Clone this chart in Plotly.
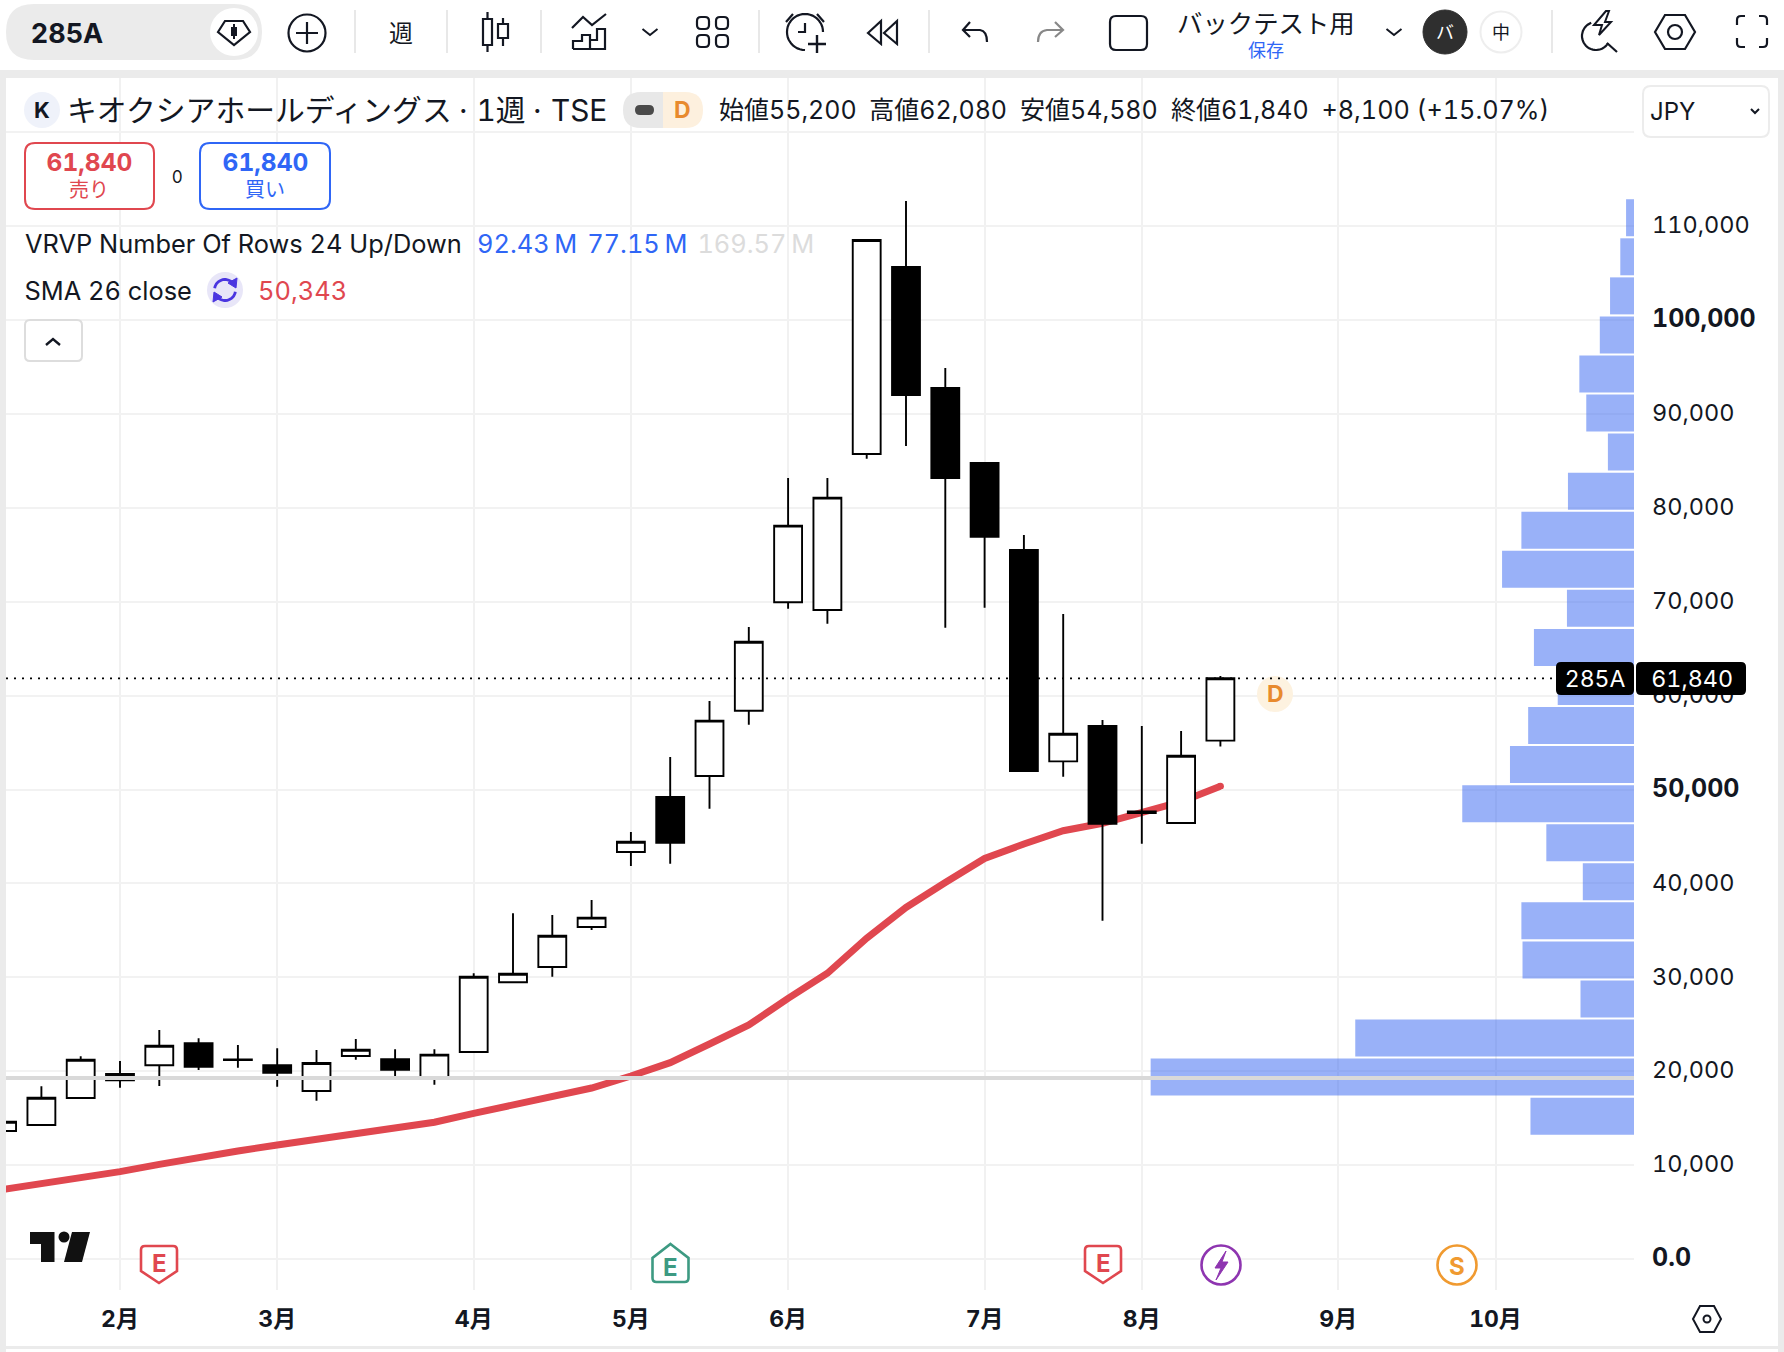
import math

import plotly.graph_objects as go

# weekly bars, 0 = first week of Feb
weeks = list(range(-3, 29))
open_ = [13630, 14270, 17150, 19040, 20630, 22970, 21200, 20630, 17890, 21620, 21270, 19280, 22040, 29470, 31100, 35360,
         43340, 49200, 51440, 58390, 69940, 69120, 85730, 105640, 92760, 84770, 75510, 53000, 56760, 47650, 46430, 55200]
high = [14620, 18400, 21590, 21090, 24390, 23500, 22790, 22440, 22260, 23430, 22330, 22330, 30430, 36810, 36630, 38230,
        45470, 53460, 59420, 67300, 83170, 83170, 108520, 112670, 94890, 84770, 77100, 68690, 57400, 56760, 56230, 62080]
low = [13630, 14270, 17150, 18240, 18430, 20130, 20370, 18350, 16860, 21220, 19380, 18560, 22040, 29470, 30060, 35040,
       41850, 42100, 47960, 56900, 69250, 67660, 85230, 86580, 67230, 69360, 51970, 51360, 36030, 44230, 46430, 54580]
close = [14620, 17180, 21220, 19700, 22710, 20480, 21240, 19840, 20870, 22290, 20160, 21760, 30060, 30380, 34430, 36350,
         44440, 44330, 57330, 65740, 78100, 81080, 108520, 92010, 83170, 76920, 51970, 55940, 46360, 47500, 53600, 61840]

sma_26 = [7400, 8000, 8650, 9300, 10080, 10830, 11500, 12140, 12780, 13420, 13950, 14560, 15510, 16400, 17360, 18210,
          19490, 20910, 22900, 24920, 27760, 30430, 34160, 37440, 40100, 42650, 44200, 45610, 46400, 47570, 48700, 50343]

# VRVP rows, price centre of the row and volume in millions
vrvp_price = [15210, 19370, 23530, 27690, 31850, 36010, 40170, 44330, 48490, 52650, 56810, 60970,
              65130, 69290, 73450, 77610, 81770, 85930, 90090, 94250, 98410, 102570, 106730, 110890]
vrvp_volume = [7.18, 33.52, 19.33, 3.71, 7.73, 7.81, 3.55, 6.08, 11.91, 8.60, 7.34, 5.29,
               6.94, 4.65, 9.15, 7.81, 4.58, 1.81, 3.31, 3.79, 2.37, 1.66, 0.95, 0.55]

month_ticks = [0, 4, 9, 13, 17, 22, 26, 31, 35]
month_labels = ["2月", "3月", "4月", "5月", "6月", "7月", "8月", "9月", "10月"]
price_ticks = [0, 10000, 20000, 30000, 40000, 50000, 60000, 70000, 80000, 90000, 100000, 110000, 120000]
price_labels = ["0.0", "10,000", "20,000", "30,000", "40,000", "50,000", "60,000", "70,000",
                "80,000", "90,000", "100,000", "110,000", ""]
bold_prices = ["0.0", "50,000", "100,000"]
line_level = 19280

W, H = 1784, 1352
PLOT_L, PLOT_R, PLOT_T, PLOT_B = 6, 1634, 78, 1290
FONT = "Inter, 'Noto Sans CJK JP', sans-serif"
INK = "#131722"
RED = "#e0474f"
BLUE = "#2f66f6"
ORANGE = "#e88a2e"
X_RANGE = [(PLOT_L - 120) / 39.3, (PLOT_R - 120) / 39.3]
Y_RANGE = [(1259 - PLOT_B) / 0.00939, (1259 - PLOT_T) / 0.00939]

shapes = []
notes = []


# shapes and text below are page furniture, placed in page pixels through x2/y2
def path(d, color=INK, width=2.2, fill=None):
    shapes.append(dict(type="path", path=d, xref="x2", yref="y2", layer="above",
                       line=dict(color=color, width=width), fillcolor=fill or "rgba(0,0,0,0)"))


def box(x0, y0, x1, y1, r=0, color=INK, width=2.2, fill=None):
    if r:
        d = (f"M{x0+r},{y0} L{x1-r},{y0} Q{x1},{y0} {x1},{y0+r} L{x1},{y1-r} Q{x1},{y1} {x1-r},{y1} "
             f"L{x0+r},{y1} Q{x0},{y1} {x0},{y1-r} L{x0},{y0+r} Q{x0},{y0} {x0+r},{y0} Z")
    else:
        d = f"M{x0},{y0} L{x1},{y0} L{x1},{y1} L{x0},{y1} Z"
    path(d, color, width, fill)


def solid(x0, y0, x1, y1, fill, r=0):
    box(x0, y0, x1, y1, r, "rgba(0,0,0,0)", 0, fill)


def circle(cx, cy, r, color=INK, width=2.2, fill=None):
    shapes.append(dict(type="circle", xref="x2", yref="y2", layer="above", x0=cx-r, x1=cx+r, y0=cy-r, y1=cy+r,
                       line=dict(color=color, width=width), fillcolor=fill or "rgba(0,0,0,0)"))


# shape paths have no arc command, so arcs go in as short segments
def arc(cx, cy, r, a0, a1, color=INK, width=2.2):
    steps = max(8, int(abs(a1 - a0) / 8))
    pts = [(cx + r * math.cos(math.radians(a0 + (a1 - a0) * k / steps)),
            cy + r * math.sin(math.radians(a0 + (a1 - a0) * k / steps))) for k in range(steps + 1)]
    path("M" + " L".join(f"{x:.1f},{y:.1f}" for x, y in pts), color, width)


def text(x, y, s, size=25, color=INK, anchor="left"):
    notes.append(dict(x=x, y=y, text=s, xref="x2", yref="y2", showarrow=False, xanchor=anchor, yanchor="middle",
                      font=dict(family=FONT, size=size, color=color), borderpad=0, borderwidth=0))


def chevron(x, y, color=INK, w=7.5, h=6, width=2):
    path(f"M{x-w},{y} L{x},{y+h} L{x+w},{y}", color, width)


def badge_down(cx):
    path(f"M{cx-18},1250 Q{cx-18},1246 {cx-14},1246 L{cx+14},1246 Q{cx+18},1246 {cx+18},1250 "
         f"L{cx+18},1271 L{cx},1283 L{cx-18},1271 Z", RED, 2.6, "white")
    text(cx, 1263, "<b>E</b>", 24, RED, "center")


# page frame
solid(0, 70, W, 78, "#ebebeb")
solid(0, 78, PLOT_L, H, "#ebebeb")
solid(1778, 78, W, H, "#ebebeb")
solid(PLOT_L, 1346, 1778, 1349, "#ebebeb")

# toolbar
solid(6, 4, 262, 60, "#ebebeb", 28)
text(31, 33, "<b>285A</b>", 27)
circle(234, 32, 24, "rgba(0,0,0,0)", 0, "white")
path("M218,32 L225,21 L243,21 L250,32 L234,45 Z", INK, 2.2)
solid(231, 27, 237, 36, INK)
path("M234,24 L234,39", INK, 2)
circle(307, 33, 18.5)
path("M296,33 L318,33 M307,22 L307,44")
for sep_x in [355, 447, 541, 759, 929, 1552]:
    solid(sep_x - 1, 10, sep_x + 1, 53, "#e8e8e8")
text(401, 33, "週", 24, INK, "center")
box(483, 19, 492, 45)
path("M487.5,12 L487.5,19 M487.5,45 L487.5,52")
box(498, 24, 508, 38)
path("M503,18 L503,24 M503,38 L503,46")
path("M572,28 L583,17 L592,25 L606,14")
path("M573,49 L573,41 L582,41 L582,35 L590,35 L590,49 M590,40 L597,40 L597,29 L605,29 L605,49 L573,49")
chevron(650, 29)
for gx, gy in [(697, 17), (716, 17), (697, 35), (716, 35)]:
    box(gx, gy, gx + 12, gy + 12, 4)
arc(805, 32, 18, 0, -270)
path("M805,23 L805,32 L798,32")
path("M786,22 L793,14 M817,14 L824,22")
path("M817,35 L817,53 M808,44 L826,44", INK, 2.4)
path("M868,33 L881,21 L881,44 Z M884,33 L897,21 L897,44 Z")
path("M970,22 L963,30 L970,37 M963,30 L980,30 Q987,31 987,42")
path("M1055,22 L1063,30 L1055,37 M1063,30 L1047,30 Q1038,31 1038,42", "#888888")
box(1110, 16, 1147, 50, 6)
text(1266, 23, "バックテスト用", 25.4, INK, "center")
text(1266, 50, "保存", 18, BLUE, "center")
chevron(1394, 29)
circle(1445, 32, 22, "#2f2f2f", 1, "#2f2f2f")
text(1445, 32, "バ", 18, "white", "center")
circle(1501, 32, 20.5, "#eeeeee", 2, "white")
text(1501, 32, "中", 18, INK, "center")
arc(1596, 36, 14, -110, -330)
path("M1607,43 L1617,52")
path("M1606,11 L1594,25 L1602,25 L1599,35 L1611,22 L1605,22 L1609,11 Z", INK, 2, "white")
path("M1655,32 L1665,15 L1685,15 L1695,32 L1685,49 L1665,49 Z")
circle(1675, 32, 7)
path("M1745,16 L1741,16 Q1737,16 1737,20 L1737,25 M1759,16 L1763,16 Q1767,16 1767,20 L1767,25 "
     "M1745,47 L1741,47 Q1737,47 1737,43 L1737,38 M1759,47 L1763,47 Q1767,47 1767,43 L1767,38")

# symbol header
circle(42, 110, 18, "rgba(0,0,0,0)", 0, "#eff2fa")
text(42, 110, "<b>K</b>", 22, INK, "center")
text(67, 110, "キオクシアホールディングス", 29.8)
text(463, 110, "·", 29.8, INK, "center")
text(501, 110, "1週", 29.8, INK, "center")
text(537, 110, "·", 29.8, INK, "center")
text(579, 110, "TSE", 29.8, INK, "center")
solid(623, 92, 680, 128, "#e8e8e8", 18)
solid(663, 92, 703, 128, "#fdf0de", 18)
solid(663, 92, 680, 128, "#fdf0de")
solid(635, 105, 654, 115, "#4a4a4a", 5)
text(682, 110, "<b>D</b>", 23, ORANGE, "center")
ohlc_x = [721, 871, 1022, 1175]
ohlc_text = ["始値55,200", "高値62,080", "安値54,580", "終値61,840"]
for tx, label in zip(ohlc_x, ohlc_text):
    text(tx, 110, label, 25)
text(1332, 110, "+8,100 (+15.07%)", 25.2)
box(1643, 86, 1769, 137, 8, "#ececec", 2, "white")
text(1650, 111, "JPY", 24)
chevron(1755, 109, INK, 4, 4, 2)

# trade buttons
box(25, 143, 154, 209, 10, RED, 2, "white")
text(89, 162, "<b>61,840</b>", 24.5, RED, "center")
text(89, 190, "売り", 20, RED, "center")
text(177, 177, "0", 17, INK, "center")
box(200, 143, 330, 209, 10, BLUE, 2, "white")
text(265, 162, "<b>61,840</b>", 24.5, BLUE, "center")
text(265, 190, "買い", 20, BLUE, "center")

# indicator legend
text(25, 243, "VRVP Number Of Rows 24 Up/Down", 25.4)
text(478, 243, "92.43\u2009M", 25.4, BLUE)
text(595, 243, "77.15\u2009M", 25.4, BLUE)
text(703, 243, "169.57\u2009M", 25.4, "#dcdcdc")
text(25, 290, "SMA 26 close", 25.4)
circle(225, 290, 18, "rgba(0,0,0,0)", 0, "#e8e6f8")
arc(225, 290, 10.5, -170, -35, "#4a35e0", 2.8)
arc(225, 290, 10.5, 10, 145, "#4a35e0", 2.8)
path("M237,278 L236,288 L228,283 Z M213,302 L214,292 L222,297 Z", "#4a35e0", 1, "#4a35e0")
text(260, 290, "50,343", 25.4, RED)
box(25, 320, 82, 361, 5, "#dddddd", 2, "white")
chevron(53, 345, INK, 7, -6, 2.4)

# TradingView mark
path("M30,1232 L54.5,1232 L54.5,1262 L41,1262 L41,1244 L30,1244 Z", "#111111", 0, "#111111")
circle(64, 1237, 5.5, "#111111", 0, "#111111")
path("M72,1232 L90,1232 L82,1262 L64,1262 Z", "#111111", 0, "#111111")

# event badges
badge_down(159)
path("M670.5,1244 L688.5,1258 L688.5,1278 Q688.5,1282 684.5,1282 L656.5,1282 Q652.5,1282 652.5,1278 "
     "L652.5,1258 Z", "#3d9a82", 2.6, "white")
text(670.5, 1267, "<b>E</b>", 24, "#3d9a82", "center")
badge_down(1103)
circle(1221, 1265, 19.5, "#8e35b0", 2.6, "white")
path("M1226,1251 L1215,1268 L1221,1268 L1216,1280 L1228,1262 L1222,1262 Z", "#8e35b0", 1, "#8e35b0")
circle(1457, 1265, 19.5, "#f09a30", 2.6, "white")
text(1457, 1266, "<b>S</b>", 24, "#f09a30", "center")
circle(1275, 694, 18, "rgba(0,0,0,0)", 0, "#fdf2e0")
text(1275, 694, "<b>D</b>", 23, ORANGE, "center")

# time axis settings hexagon
path("M1693,1319 L1700,1306 L1714,1306 L1721,1319 L1714,1332 L1700,1332 Z", INK, 2)
circle(1707, 1319, 3.5, INK, 2)

# price tags
solid(1556, 662, 1634, 695, "black", 5)
solid(1636, 662, 1746, 695, "black", 5)
text(1595, 679, "285A", 23, "white", "center")
text(1692, 678, "61,840", 23.3, "white", "center")

# last price and the horizontal line tool
shapes.append(dict(type="line", xref="x2", yref="y", x0=PLOT_L, x1=1556, y0=close[-1], y1=close[-1], layer="above",
                   line=dict(color="black", width=1.8, dash="2px,6px")))
shapes.append(dict(type="line", xref="x2", yref="y", x0=PLOT_L, x1=PLOT_R, y0=line_level, y1=line_level, layer="above",
                   line=dict(color="#d9d9d9", width=4)))
# round end of the SMA line
shapes.append(dict(type="circle", xref="x", yref="y", xsizemode="pixel", ysizemode="pixel", xanchor=weeks[-1],
                   yanchor=sma_26[-1], x0=-3.5, x1=3.5, y0=-3.5, y1=3.5, layer="below",
                   line_width=0, fillcolor=RED))

fig = go.Figure()
fig.add_trace(go.Bar(x=vrvp_volume, y=vrvp_price, orientation="h", width=3940, xaxis="x3", yaxis="y",
                     marker=dict(color="rgba(51,99,241,0.5)", line_width=0)))
fig.add_trace(go.Scatter(x=weeks, y=sma_26, mode="lines", line=dict(color=RED, width=7)))
fig.add_trace(go.Candlestick(x=weeks, open=open_, high=high, low=low, close=close, yaxis="y3", whiskerwidth=0,
                             increasing=dict(line=dict(color="black", width=1.9), fillcolor="white"),
                             decreasing=dict(line=dict(color="black", width=1.9), fillcolor="black")))
fig.add_trace(go.Scatter(x=[], y=[], xaxis="x2", yaxis="y2"))

tick_text = [f'<span style="font-size:25px"><b>{p}</b></span>' if p in bold_prices else p for p in price_labels]

fig.update_layout(
    width=W, height=H, margin=dict(l=0, r=0, t=0, b=0), paper_bgcolor="white", plot_bgcolor="rgba(0,0,0,0)",
    showlegend=False, boxgap=0.29, boxgroupgap=0, hovermode=False, shapes=shapes, annotations=notes,
    font=dict(family=FONT, color=INK),
    xaxis=dict(domain=[PLOT_L / W, PLOT_R / W], range=X_RANGE, rangeslider_visible=False, tickmode="array",
               tickvals=month_ticks, ticktext=[f"<b>{m}</b>" for m in month_labels], showgrid=True, gridcolor="#f1f1f1",
               gridwidth=2, zeroline=False, showline=False, ticks="", ticklabelstandoff=13, tickfont=dict(size=23)),
    yaxis=dict(domain=[1 - PLOT_B / H, 1 - PLOT_T / H], range=Y_RANGE, side="right", tickmode="array",
               tickvals=price_ticks, ticktext=tick_text, showgrid=True, gridcolor="#f2f2f2", gridwidth=2,
               zeroline=False, showline=False, ticks="", ticklabelstandoff=17, ticklabelshift=-1,
               tickfont=dict(size=23.5), anchor="x"),
    xaxis2=dict(domain=[0, 1], range=[0, W], visible=False, anchor="y2"),
    yaxis2=dict(domain=[0, 1], range=[H, 0], visible=False, anchor="x2"),
    xaxis3=dict(overlaying="x", range=[112.9, 0], visible=False, anchor="y"),
    yaxis3=dict(overlaying="y", range=Y_RANGE, visible=False, anchor="x", side="right"),
)

# page margin off, wide figures like the reference's system font
page_js = ("document.body.style.margin='0';"
           "var s=document.createElement('style');"
           "s.textContent='svg text{font-feature-settings:\"tnum\" 1}';"
           "document.head.appendChild(s);")
fig.write_html("out.html", post_script=page_js, config={"displayModeBar": False})
